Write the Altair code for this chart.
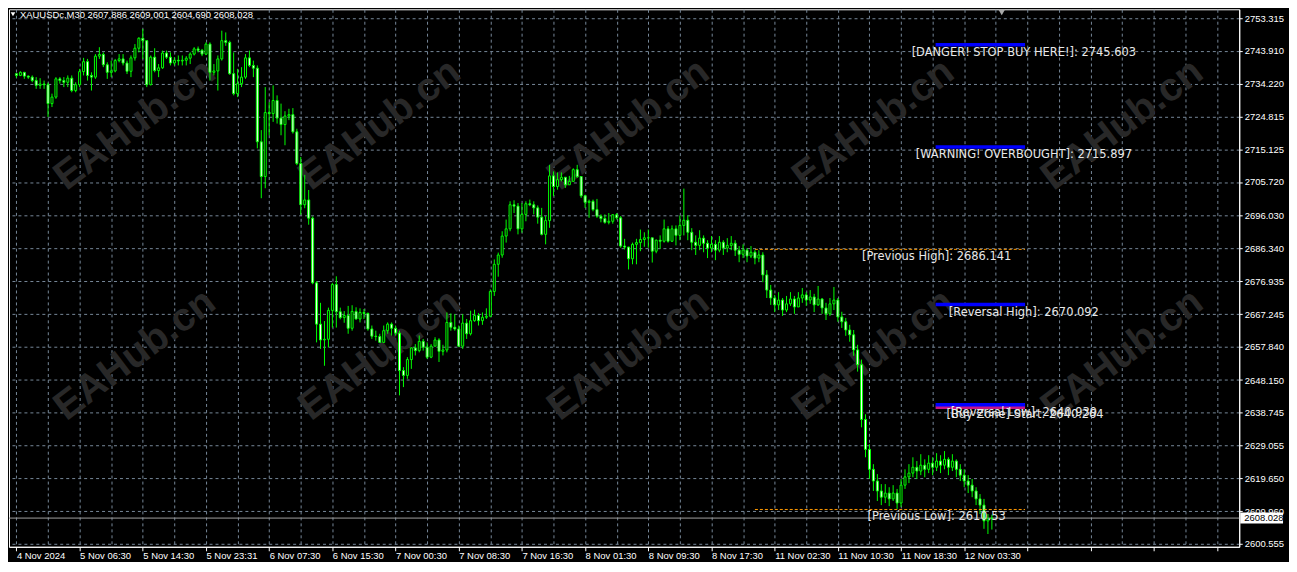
import json
import altair as alt
import pandas as pd

SYMBOL = "XAUUSDc,M30"
OPEN_FIRST = 2737.2

CLOSE = [
    2736.7, 2737.6, 2736.5, 2736.2, 2735.2, 2733.8, 2734.2, 2734.0, 2728.5, 2730.4,
    2735.7, 2735.2, 2734.7, 2735.9, 2732.3, 2734.0, 2737.8, 2740.7, 2736.7, 2736.2,
    2742.3, 2742.8, 2739.8, 2737.6, 2738.0, 2741.0, 2741.5, 2740.3, 2737.9, 2741.8,
    2744.6, 2747.5, 2746.8, 2734.0, 2742.0, 2738.1, 2738.9, 2743.2, 2742.0, 2740.3,
    2741.1, 2740.9, 2741.1, 2741.7, 2742.9, 2744.4, 2744.0, 2742.9, 2745.8, 2737.6,
    2738.0, 2741.5, 2746.8, 2746.3, 2737.2, 2731.4, 2734.3, 2736.2, 2741.8, 2739.6,
    2738.8, 2717.4, 2707.3, 2725.9, 2725.6, 2729.4, 2724.3, 2722.4, 2724.9, 2725.3,
    2720.3, 2711.1, 2699.1, 2700.5, 2695.2, 2676.4, 2664.4, 2659.8, 2660.0, 2668.4,
    2675.9, 2668.0, 2666.3, 2666.9, 2663.2, 2668.1, 2665.9, 2667.8, 2667.5, 2663.0,
    2660.9, 2660.8, 2659.1, 2662.5, 2664.4, 2663.2, 2661.8, 2650.9, 2649.5, 2654.1,
    2657.5, 2656.7, 2659.4, 2657.7, 2654.8, 2658.0, 2659.8, 2656.5, 2656.9, 2664.9,
    2663.5, 2663.0, 2658.0, 2664.7, 2661.6, 2665.4, 2666.9, 2665.4, 2666.4, 2666.7,
    2673.9, 2681.8, 2684.5, 2690.0, 2692.1, 2699.1, 2698.7, 2692.1, 2696.3, 2699.4,
    2699.1, 2698.2, 2695.5, 2690.5, 2694.5, 2707.5, 2704.4, 2706.4, 2707.1, 2704.9,
    2705.9, 2709.3, 2707.3, 2701.7, 2699.8, 2700.1, 2697.7, 2695.8, 2695.1, 2694.0,
    2694.3, 2696.2, 2695.3, 2687.1, 2686.8, 2683.4, 2687.6, 2688.1, 2689.0, 2689.5,
    2689.5, 2685.6, 2688.8, 2688.5, 2692.1, 2688.5, 2692.1, 2690.2, 2693.1, 2694.6,
    2691.1, 2688.2, 2687.3, 2689.4, 2687.9, 2686.5, 2687.6, 2685.9, 2688.2, 2686.5,
    2687.3, 2687.9, 2685.9, 2684.7, 2685.9, 2684.2, 2685.3, 2683.6, 2684.5, 2678.7,
    2674.3, 2672.0, 2670.0, 2671.4, 2668.5, 2670.3, 2671.7, 2669.4, 2672.0, 2672.9,
    2671.4, 2672.3, 2670.0, 2671.7, 2669.1, 2667.4, 2670.3, 2671.4, 2666.5, 2665.1,
    2662.7, 2661.3, 2656.9, 2652.6, 2636.7, 2628.0, 2622.2, 2618.8, 2615.9, 2614.1,
    2615.3, 2613.6, 2615.3, 2612.4, 2617.6, 2620.0, 2621.1, 2622.8, 2621.7, 2623.4,
    2622.2, 2624.0, 2622.8, 2624.6, 2623.4, 2625.1, 2622.8, 2624.6, 2622.2, 2620.5,
    2618.8, 2617.6, 2615.9, 2613.6, 2611.8, 2607.2, 2607.886, 2608.028,
]

HIGH = [
    2737.3, 2737.9, 2736.9, 2736.7, 2736.7, 2736.2, 2735.9, 2735.2, 2734.6, 2731.4,
    2736.2, 2736.2, 2736.2, 2736.7, 2736.7, 2734.7, 2738.6, 2741.8, 2741.5, 2737.6,
    2742.9, 2744.9, 2743.4, 2740.5, 2741.0, 2741.5, 2742.9, 2742.9, 2741.0, 2742.5,
    2745.8, 2747.8, 2750.2, 2746.8, 2742.5, 2744.6, 2740.0, 2743.9, 2743.9, 2743.4,
    2742.0, 2742.5, 2742.5, 2742.3, 2743.4, 2744.9, 2745.1, 2744.4, 2746.3, 2746.3,
    2740.0, 2742.5, 2749.7, 2749.2, 2746.8, 2743.4, 2738.6, 2739.1, 2742.9, 2743.9,
    2741.0, 2739.6, 2720.8, 2733.3, 2728.9, 2733.8, 2730.9, 2728.5, 2726.3, 2727.0,
    2727.2, 2721.2, 2713.0, 2707.8, 2703.4, 2695.7, 2676.9, 2670.6, 2665.3, 2669.2,
    2676.4, 2678.3, 2669.2, 2668.2, 2669.7, 2669.9, 2669.3, 2669.0, 2668.8, 2667.8,
    2664.0, 2662.5, 2661.6, 2664.0, 2664.9, 2664.9, 2664.0, 2662.5, 2651.9, 2654.8,
    2657.7, 2658.6, 2661.1, 2660.1, 2659.1, 2658.6, 2660.6, 2660.3, 2658.4, 2667.8,
    2667.5, 2667.3, 2664.0, 2667.3, 2665.9, 2668.3, 2668.6, 2667.6, 2667.8, 2669.0,
    2674.5, 2683.2, 2685.2, 2691.4, 2694.8, 2700.1, 2700.4, 2699.6, 2699.6, 2700.1,
    2700.6, 2700.1, 2698.9, 2698.2, 2695.8, 2710.7, 2708.8, 2708.5, 2708.5, 2706.9,
    2707.5, 2709.7, 2710.7, 2706.9, 2702.0, 2700.6, 2700.6, 2700.8, 2696.3, 2696.3,
    2696.7, 2696.4, 2696.7, 2695.8, 2689.2, 2686.9, 2688.1, 2689.2, 2691.9, 2691.1,
    2691.9, 2689.5, 2689.0, 2690.2, 2694.8, 2692.9, 2693.1, 2693.1, 2696.0, 2703.8,
    2696.0, 2692.3, 2690.2, 2691.7, 2690.2, 2688.8, 2690.0, 2688.8, 2690.0, 2688.8,
    2689.4, 2690.0, 2688.8, 2687.1, 2687.6, 2686.5, 2687.1, 2685.9, 2685.9, 2685.3,
    2680.1, 2675.8, 2672.9, 2673.7, 2672.0, 2672.6, 2673.7, 2672.6, 2673.7, 2674.9,
    2673.7, 2674.3, 2673.2, 2675.5, 2672.0, 2670.6, 2672.0, 2675.2, 2672.0, 2668.0,
    2666.2, 2664.2, 2662.7, 2658.4, 2654.1, 2638.2, 2629.5, 2623.7, 2620.8, 2617.9,
    2617.9, 2617.0, 2617.6, 2616.5, 2619.4, 2622.2, 2623.7, 2625.7, 2624.6, 2626.6,
    2625.1, 2626.3, 2625.7, 2626.9, 2626.3, 2627.5, 2625.7, 2626.6, 2625.1, 2623.7,
    2622.2, 2620.5, 2619.4, 2617.0, 2615.0, 2613.6, 2609.2, 2609.001,
]

LOW = [
    2736.0, 2736.5, 2735.7, 2735.7, 2734.7, 2732.8, 2732.8, 2732.8, 2724.6, 2727.5,
    2729.9, 2734.3, 2733.3, 2733.3, 2731.8, 2731.8, 2733.3, 2736.7, 2735.2, 2732.3,
    2735.7, 2741.5, 2739.1, 2735.7, 2736.2, 2737.6, 2740.5, 2739.6, 2737.1, 2736.2,
    2741.0, 2743.4, 2741.5, 2733.3, 2733.8, 2737.6, 2736.2, 2738.6, 2741.5, 2739.6,
    2739.6, 2739.6, 2739.6, 2739.6, 2740.0, 2742.5, 2743.4, 2742.3, 2742.6, 2735.2,
    2736.7, 2732.3, 2741.0, 2745.3, 2736.9, 2730.9, 2730.4, 2733.3, 2735.7, 2739.1,
    2736.2, 2715.5, 2701.0, 2703.9, 2719.3, 2723.2, 2722.7, 2719.3, 2716.4, 2723.7,
    2719.8, 2710.6, 2696.2, 2698.1, 2693.3, 2676.0, 2659.1, 2657.2, 2652.3, 2657.6,
    2663.4, 2663.4, 2665.8, 2664.8, 2661.6, 2662.5, 2665.7, 2664.9, 2665.9, 2662.5,
    2660.1, 2659.6, 2658.9, 2659.1, 2661.6, 2661.1, 2661.1, 2643.7, 2646.1, 2648.5,
    2651.4, 2655.3, 2656.2, 2656.7, 2654.3, 2654.5, 2658.0, 2653.4, 2655.3, 2656.2,
    2662.5, 2662.5, 2657.7, 2657.2, 2660.1, 2661.1, 2665.1, 2664.0, 2664.2, 2665.9,
    2666.4, 2672.6, 2678.2, 2683.7, 2688.1, 2691.4, 2696.7, 2690.5, 2691.0, 2694.3,
    2698.7, 2696.3, 2693.6, 2690.2, 2687.6, 2692.4, 2701.6, 2703.5, 2705.9, 2704.0,
    2704.9, 2706.4, 2706.9, 2701.1, 2698.2, 2695.3, 2697.2, 2695.3, 2694.0, 2693.6,
    2693.4, 2693.6, 2694.8, 2686.6, 2686.1, 2680.3, 2681.8, 2681.8, 2685.6, 2686.9,
    2686.6, 2682.3, 2685.0, 2686.3, 2688.1, 2688.1, 2688.3, 2687.3, 2688.8, 2690.2,
    2688.8, 2685.9, 2684.5, 2685.9, 2685.3, 2683.6, 2685.3, 2683.0, 2685.3, 2684.5,
    2685.3, 2685.9, 2684.2, 2682.4, 2683.6, 2682.4, 2683.6, 2681.8, 2682.4, 2676.6,
    2672.0, 2670.0, 2667.9, 2668.5, 2666.8, 2667.9, 2669.7, 2667.4, 2669.7, 2670.6,
    2669.7, 2670.3, 2667.9, 2669.7, 2667.4, 2665.6, 2666.8, 2668.5, 2665.1, 2663.3,
    2661.0, 2659.3, 2655.2, 2650.6, 2634.4, 2625.7, 2619.4, 2615.9, 2613.0, 2611.8,
    2612.4, 2611.5, 2613.0, 2610.7, 2611.3, 2616.5, 2618.2, 2619.9, 2619.4, 2620.5,
    2619.9, 2621.1, 2620.5, 2621.7, 2621.1, 2622.2, 2620.5, 2621.7, 2619.9, 2618.8,
    2617.0, 2615.3, 2614.1, 2611.8, 2609.2, 2604.9, 2603.4, 2604.690,
]

TIME_LABELS = [
    "4 Nov 2024", "5 Nov 06:30", "5 Nov 14:30", "5 Nov 23:31", "6 Nov 07:30",
    "6 Nov 15:30", "7 Nov 00:30", "7 Nov 08:30", "7 Nov 16:30", "8 Nov 01:30",
    "8 Nov 09:30", "8 Nov 17:30", "11 Nov 02:30", "11 Nov 10:30", "11 Nov 18:30",
    "12 Nov 03:30",
]
LABEL_EVERY = 16
GRID_EVERY = 8

PRICE_TICKS = [
    2600.555, 2609.960, 2619.650, 2629.055, 2638.745, 2648.150, 2657.840,
    2667.245, 2676.935, 2686.340, 2696.030, 2705.720, 2715.125, 2724.815,
    2734.220, 2743.910, 2753.315,
]

LEVEL_NAMES = [
    "[DANGER! STOP BUY HERE!]", "[WARNING! OVERBOUGHT]", "[Previous High]",
    "[Reversal High]", "[Reversal Low]", "[Buy Zone] Start", "[Previous Low]",
]
LEVEL_PRICES = [2745.603, 2715.897, 2686.141, 2670.092, 2640.939, 2640.264, 2610.53]
LEVEL_KIND = ["zone", "zone", "prev", "zone", "zone", "buy", "prev"]
LEVEL_START = [232.75, 232.75, 187.0, 232.75, 232.75, 232.75, 187.0]
LEVEL_END = [255.4, 255.4, 255.4, 255.4, 255.4, 255.4, 255.4]
LEVEL_TEXT_AT = [255.1, 255.1, 233.0, 255.1, 255.1, 255.4, 233.0]

WATERMARK_BAR = [30, 92, 155, 217, 280, 30, 92, 155, 217, 280]
WATERMARK_PRICE = [2722.4, 2722.4, 2722.4, 2722.4, 2722.4,
                   2655.5, 2655.5, 2655.5, 2655.5, 2655.5]

# ---------------------------------------------------------------- frames
n = min(len(CLOSE), len(HIGH), len(LOW))
opens = [OPEN_FIRST] + CLOSE[: n - 1]
rows = []
for i in range(n):
    o, c = opens[i], CLOSE[i]
    rows.append(dict(i=i, o=o, c=c,
                     h=max(HIGH[i], o, c), l=min(LOW[i], o, c),
                     top=max(o, c), bot=min(o, c),
                     dir="down" if c < o else "up"))
candles = pd.DataFrame(rows)

levels = pd.DataFrame(dict(
    name=LEVEL_NAMES, price=LEVEL_PRICES, kind=LEVEL_KIND,
    start=LEVEL_START, end=LEVEL_END, at=LEVEL_TEXT_AT,
))
levels["label"] = [f"{nm}: {p}" for nm, p in zip(LEVEL_NAMES, LEVEL_PRICES)]

last = candles.iloc[-1]
cur = pd.DataFrame(dict(price=[last.c], label=[f"{last.c:.3f}"]))
header = pd.DataFrame(dict(t=[f"{SYMBOL}  {last.o:.3f} {last.h:.3f} {last.l:.3f} {last.c:.3f}"]))
marks = pd.DataFrame(dict(bar=WATERMARK_BAR, price=WATERMARK_PRICE, t=["EAHub.cn"] * len(WATERMARK_BAR)))
shift = pd.DataFrame(dict(bar=[n + 1.5]))

# ---------------------------------------------------------------- style
W, H = 1236, 540
X_DOMAIN = [-0.625, -0.625 + W / 4]
Y_DOMAIN = [2599.687, 2755.919]
LIME = "#00ff00"
GRID = "#778899"
AX_FONT = "Liberation Sans"
TX_FONT = "DejaVu Sans"

xs = alt.Scale(domain=X_DOMAIN, nice=False, zero=False)
ys = alt.Scale(domain=Y_DOMAIN, nice=False, zero=False)

label_expr = (
    f"datum.value % {LABEL_EVERY} == 0 && datum.value / {LABEL_EVERY} < {len(TIME_LABELS)} "
    f"? {json.dumps(TIME_LABELS)}[datum.value / {LABEL_EVERY}] : ''"
)
x_axis = alt.Axis(
    values=list(range(0, int(X_DOMAIN[1]) + 1, GRID_EVERY)),
    labelExpr=label_expr, title=None,
    grid=True, gridColor=GRID, gridDash=[3, 3], gridWidth=1,
    domainColor="white", domainWidth=1,
    tickColor={"condition": {"test": f"datum.value % {LABEL_EVERY} == 0", "value": "white"},
               "value": "transparent"},
    tickSize=4, labelColor="white", labelFont=AX_FONT, labelFontSize=9.5,
    labelAlign="left", labelBaseline="top", labelPadding=0,
    labelFlush=False, labelOverlap=False,
)
y_axis = alt.Axis(
    orient="right", values=PRICE_TICKS, format=".3f", title=None,
    grid=True, gridColor=GRID, gridDash=[3, 3], gridWidth=1,
    domainColor="white", domainWidth=1, tickColor="white", tickSize=3,
    labelColor="white", labelFont=AX_FONT, labelFontSize=9.5, labelPadding=2,
    labelFlush=False, labelOverlap=False,
)


def X(field):
    return alt.X(field, scale=xs, axis=x_axis, title=None)


def Y(field):
    return alt.Y(field, scale=ys, axis=y_axis, title=None)


wm = alt.Chart(marks).mark_text(
    angle=323, font=AX_FONT, fontSize=40, fontWeight="bold", color="#282828",
    align="center", baseline="middle",
).encode(x=X("bar:Q"), y=Y("price:Q"), text="t:N")

price_line = alt.Chart(cur).mark_rule(color="#a0a0a0", strokeWidth=1).encode(
    x=alt.value(0), x2=alt.value(W), y=Y("price:Q"),
)

wicks = alt.Chart(candles).mark_rule(color=LIME, strokeWidth=1).encode(
    x=X("i:Q"), y=Y("l:Q"), y2="h:Q",
)
bodies = alt.Chart(candles).mark_bar(size=2, stroke=LIME, strokeWidth=1).encode(
    x=X("i:Q"), y=Y("bot:Q"), y2="top:Q",
    fill=alt.Fill("dir:N", scale=alt.Scale(domain=["up", "down"], range=["black", "white"]), legend=None),
)


def level_lines(kind, color, width, dash=None):
    kw = dict(color=color, strokeWidth=width, strokeCap="butt")
    if dash:
        kw["strokeDash"] = dash
    return alt.Chart(levels[levels.kind == kind]).mark_rule(**kw).encode(
        x=X("start:Q"), x2="end:Q", y=Y("price:Q"),
    )


prev_lines = level_lines("prev", "#ff9900", 1, [3, 2])
buy_lines = level_lines("buy", "#c71585", 3.5)
zone_lines = level_lines("zone", "#0000ff", 3.5)

level_text = alt.Chart(levels).mark_text(
    align="center", baseline="middle", dy=8, font=TX_FONT, fontSize=11.5, color="#e8e8e8",
).encode(x=X("at:Q"), y=Y("price:Q"), text="label:N")

tag_bg = alt.Chart(cur).mark_rule(color="white", strokeWidth=11, strokeCap="butt").encode(
    x=alt.value(W + 1), x2=alt.value(W + 44), y=Y("price:Q"),
)
tag_text = alt.Chart(cur).mark_text(
    align="left", baseline="middle", font=AX_FONT, fontSize=9.5, color="black",
).encode(x=alt.value(W + 5), y=Y("price:Q"), text="label:N")

head_tri = alt.Chart(header).mark_point(
    shape="triangle-down", filled=True, size=22, color="white", opacity=1,
).encode(x=alt.value(4), y=alt.value(5))
head_text = alt.Chart(header).mark_text(
    align="left", baseline="top", font=AX_FONT, fontSize=9.5, color="white",
).encode(x=alt.value(11), y=alt.value(0.5), text="t:N")

shift_mark = alt.Chart(shift).mark_point(
    shape="triangle-down", filled=True, size=45, color="#a9a9a9", opacity=1,
).encode(x=X("bar:Q"), y=alt.value(3))

chart = alt.layer(
    wm, price_line, wicks, bodies, prev_lines, buy_lines, zone_lines, level_text,
    tag_bg, tag_text, head_tri, head_text, shift_mark,
).properties(
    width=W, height=H, background="black", padding=0,
).configure_view(stroke="white", strokeWidth=1, fill="black")

chart.save("out.html", embed_options={"renderer": "svg", "actions": False})
